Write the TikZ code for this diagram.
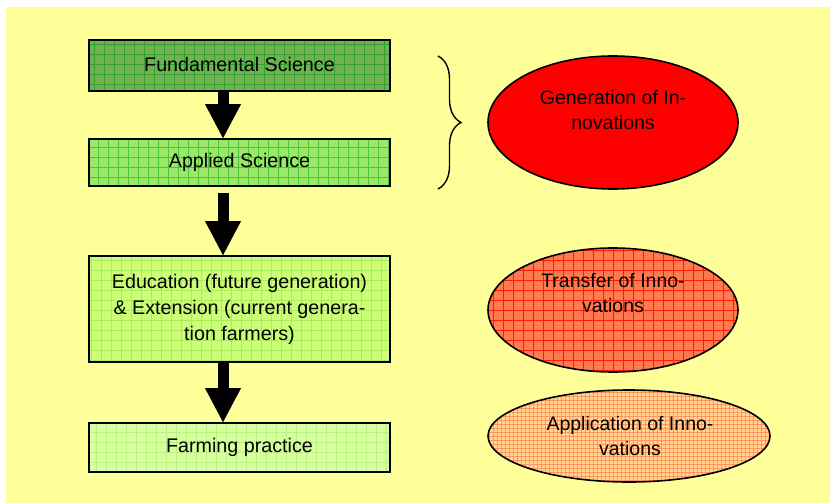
\documentclass[tikz,border=0pt]{standalone}
\usepackage{fontspec}
\setmainfont{Liberation Sans}
\usetikzlibrary{arrows.meta,shapes.geometric,decorations.pathreplacing}

\definecolor{paper}{HTML}{FFFF99}
\definecolor{fundfill}{HTML}{72B24E}
\definecolor{fundgrid}{HTML}{34A034}
\definecolor{applfill}{HTML}{9CE868}
\definecolor{applgrid}{HTML}{4CC43C}
\definecolor{edufill}{HTML}{CCFF77}
\definecolor{edugrid}{HTML}{A8EC5C}
\definecolor{farmfill}{HTML}{D6FF9E}
\definecolor{farmgrid}{HTML}{BCF084}
\definecolor{genfill}{HTML}{FF0000}
\definecolor{transfill}{HTML}{FF7A50}
\definecolor{transgrid}{HTML}{FF1A00}
\definecolor{appfill}{HTML}{FFD890}
\definecolor{appgrid}{HTML}{FF9460}

\tikzset{
  gridfill/.style n args={3}{
    fill=#1,
    path picture={\draw[#2, line width=0.9pt, step=#3]
      (path picture bounding box.south west) grid (path picture bounding box.north east);}
  },
  stagebox/.style={draw=black, line width=1.6pt, rectangle, minimum width=301pt,
    inner sep=0pt, align=center, font=\fontsize{19.7}{26}\selectfont},
  phase/.style={draw=black, line width=1.6pt, ellipse, inner sep=0pt},
  phasetext/.style={align=center, inner sep=0pt, font=\fontsize{19.5}{25}\selectfont},
  blockarrow/.style={line width=11pt, black,
    -{Triangle[width=36pt,length=34pt,line width=0pt]}},
}

\begin{document}
\begin{tikzpicture}[x=1pt,y=-1pt]
  % page and yellow ground
  \fill[white] (0,0) rectangle (830,503);
  \fill[paper] (6,7) rectangle (830,503);
  \useasboundingbox (0,0) rectangle (830,503);

  % stages of the chain
  \node[stagebox, gridfill={fundfill}{fundgrid}{10pt}, minimum height=51pt]
    (fund) at (239.5,65.5) {\raisebox{3pt}{Fundamental Science}};
  \node[stagebox, gridfill={applfill}{applgrid}{10pt}, minimum height=47pt]
    (appl) at (239.5,162.5) {Applied Science};
  \node[stagebox, gridfill={edufill}{edugrid}{10pt}, minimum height=106pt]
    (edu) at (239.5,309) {Education (future generation)\\
      \& Extension (current genera-\\tion farmers)};
  \node[stagebox, gridfill={farmfill}{farmgrid}{10pt}, minimum height=49pt]
    (farm) at (239.5,447.5) {Farming practice};

  % block arrows between stages
  \draw[blockarrow] ([xshift=-16.5pt]fund.south) -- ([xshift=-16.5pt]appl.north);
  \draw[blockarrow] ([xshift=-16.5pt,yshift=-6pt]appl.south) -- ([xshift=-16.5pt]edu.north);
  \draw[blockarrow] ([xshift=-16.5pt]edu.south) -- ([xshift=-16.5pt]farm.north);

  % brace grouping the two science stages
  \coordinate (bracetop) at (438,56);
  \coordinate (bracebot) at (438,189);
  \draw[line width=1.4pt, decorate, decoration={brace, amplitude=23pt, aspect=0.5}]
    (bracetop) -- (bracebot);

  % phases of innovation
  \node[phase, fill=genfill, minimum width=250pt, minimum height=133pt]
    (gen) at (613,122.5) {};
  \node[phasetext] (gentext) at (613,110) {Generation of In-\\novations};

  \node[phase, gridfill={transfill}{transgrid}{10pt}, minimum width=250pt, minimum height=124pt]
    (trans) at (613,310) {};
  \node[phasetext] (transtext) at (613,293) {Transfer of Inno-\\vations};

  \node[phase, gridfill={appfill}{appgrid}{4pt}, minimum width=282pt, minimum height=92pt]
    (app) at (629,436) {};
  \node[phasetext] (apptext) at (630,436) {Application of Inno-\\vations};
\end{tikzpicture}
\end{document}
